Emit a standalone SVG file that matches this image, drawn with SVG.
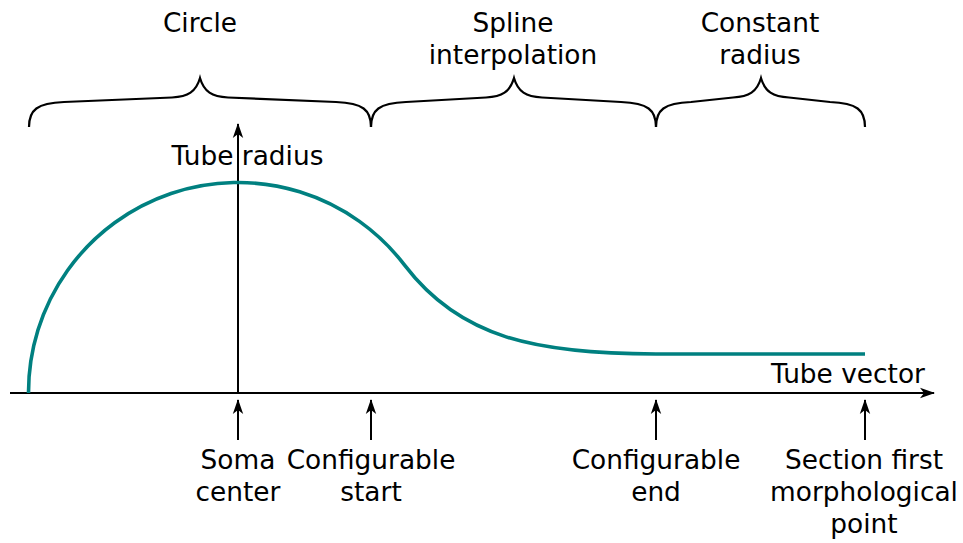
<svg xmlns="http://www.w3.org/2000/svg" width="963" height="543" viewBox="0 0 963 543">
<style>
  text { font-family: "DejaVu Sans", "Liberation Sans", sans-serif; font-size: 26.4px; fill: #000; text-anchor: middle; }
  .ax { stroke: #000; stroke-width: 2; fill: none; marker-end: url(#arr); }
  .brace { stroke: #000; stroke-width: 2.2; fill: none; }
  .curve { stroke: #008080; stroke-width: 3.6; fill: none; }
</style>
<defs>
  <marker id="arr" markerUnits="userSpaceOnUse" markerWidth="20" markerHeight="14" viewBox="-16 -7 20 14" refX="0" refY="0" orient="auto">
    <path d="M1,0 L-14,-5.2 L-10,0 L-14,5.2 Z" fill="#000"/>
  </marker>
</defs>
<g id="braces">
  <path class="brace" d="M29,127 C29,110 37,103 64,102 L172,97.5 C188,96.5 196,92 200,78 C204,92 212,96.5 228,97.5 L336,102 C363,103 371,110 371,127"/>
  <path class="brace" d="M371,127 C371,110 379,103 406,102 L486,97.5 C502,96.5 510,92 514,78 C518,92 526,96.5 542,97.5 L621,102 C648,103 656,110 656,127"/>
  <path class="brace" d="M656,127 C656,110 664,103 691,102 L733,97.5 C749,96.5 757,92 761,78 C765,92 773,96.5 789,97.5 L830,102 C857,103 865,110 865,127"/>
</g>
<g id="segment-labels">
  <text x="200" y="32">Circle</text>
  <text x="513" y="31.5">Spline</text>
  <text x="513" y="63.5">interpolation</text>
  <text x="760" y="31.5">Constant</text>
  <text x="760" y="63.5">radius</text>
</g>
<g id="connectors">
  <path class="ax" d="M10,393 H934"/>
  <path class="ax" d="M238,393 V124"/>
  <path class="ax" d="M238,440 V400"/>
  <path class="ax" d="M371,440 V400"/>
  <path class="ax" d="M656,440 V400"/>
  <path class="ax" d="M865,440 V400"/>
</g>
<g id="radius-curve">
  <path class="curve" d="M28.5,393 A209.5,210 0 0 1 405,265.7 C460,337.8 536,354 656,354 L865,354"/>
</g>
<g id="axis-labels">
  <text x="247.5" y="165">Tube radius</text>
  <text x="848" y="383">Tube vector</text>
</g>
<g id="soma-center"><text x="238" y="469">Soma</text><text x="238" y="501">center</text></g>
<g id="configurable-start"><text x="371" y="469">Configurable</text><text x="371" y="501">start</text></g>
<g id="configurable-end"><text x="656" y="469">Configurable</text><text x="656" y="501">end</text></g>
<g id="section-first-point"><text x="864" y="469">Section first</text><text x="864" y="501">morphological</text><text x="864" y="533">point</text></g>
</svg>
